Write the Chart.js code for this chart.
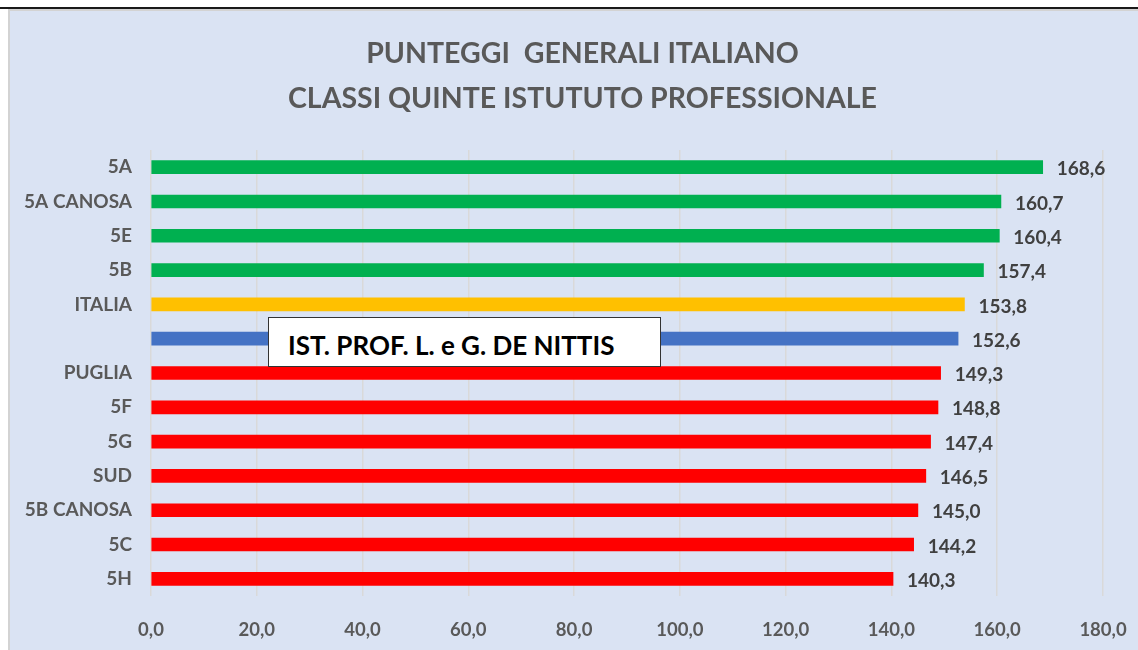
<!doctype html>
<html lang="it">

<head>
    <meta charset="utf-8">
    <title>Punteggi generali italiano</title>
    <script src="https://cdn.jsdelivr.net/npm/chart.js"></script>
    <style>
        body {
            margin: 0;
            background: #ffffff;
            font-family: Lato, "Open Sans", sans-serif;
        }

        .riga {
            position: absolute;
            left: 0;
            top: 7px;
            width: 1138px;
            height: 2px;
            background: #1a1a1a;
        }

        .pannello {
            position: absolute;
            left: 8px;
            top: 9px;
            width: 1128px;
            height: 639px;
            background: #dae3f3;
            border-top: 2px solid #d3d3d3;
            border-left: 2px solid #d3d3d3;
        }

        .titolo {
            position: absolute;
            left: 27px;
            top: 30px;
            width: 1111px;
            text-align: center;
            font-weight: bold;
            font-size: 28.5px;
            line-height: 45px;
            color: #595959;
            white-space: pre;
        }

        .etichetta {
            position: absolute;
            left: 268px;
            top: 317px;
            width: 393px;
            height: 50px;
            box-sizing: border-box;
            background: #ffffff;
            border: 1px solid #333333;
            font-weight: bold;
            font-size: 26px;
            color: #000000;
            line-height: 54px;
            padding-left: 19px;
            white-space: nowrap;
        }
    </style>
</head>

<body>
    <div class="riga"></div>
    <div class="pannello">
        <canvas id="chart" width="1128" height="639"></canvas>
    </div>
    <div class="titolo" id="titolo"></div>
    <div class="etichetta">IST. PROF. L. e G. DE NITTIS</div>

    <script>
        // dati
        const classi = ['5A', '5A CANOSA', '5E', '5B', 'ITALIA', '', 'PUGLIA', '5F', '5G', 'SUD', '5B CANOSA', '5C', '5H'];
        const punteggi = [168.6, 160.7, 160.4, 157.4, 153.8, 152.6, 149.3, 148.8, 147.4, 146.5, 145.0, 144.2, 140.3];
        const colori = ['#00b050', '#00b050', '#00b050', '#00b050', '#ffc000', '#4472c4',
            '#ff0000', '#ff0000', '#ff0000', '#ff0000', '#ff0000', '#ff0000', '#ff0000'];
        const titolo = ['PUNTEGGI  GENERALI ITALIANO', 'CLASSI QUINTE ISTUTUTO PROFESSIONALE'];

        document.getElementById('titolo').textContent = titolo.join('\n');

        const virgola = v => v.toFixed(1).replace('.', ',');

        // etichette dei valori a destra delle barre
        const valori = {
            id: 'valori',
            afterDatasetsDraw(chart) {
                const ctx = chart.ctx;
                const meta = chart.getDatasetMeta(0);
                ctx.save();
                ctx.font = 'bold 19px Lato, sans-serif';
                ctx.fillStyle = '#404040';
                ctx.textAlign = 'left';
                ctx.textBaseline = 'middle';
                meta.data.forEach((bar, i) => {
                    ctx.fillText(virgola(punteggi[i]), bar.x + 14, bar.y + 2);
                });
                ctx.restore();
            }
        };

        new Chart(document.getElementById('chart'), {
            type: 'bar',
            data: {
                labels: classi,
                datasets: [{
                    data: punteggi,
                    backgroundColor: colori,
                    barThickness: 13
                }]
            },
            options: {
                indexAxis: 'y',
                responsive: false,
                animation: false,
                layout: { padding: { left: 0, right: 35, top: 139, bottom: 0 } },
                plugins: {
                    legend: { display: false },
                    tooltip: { enabled: false },
                    title: { display: false }
                },
                scales: {
                    x: {
                        min: 0,
                        max: 180,
                        afterFit: s => {
                            s.height = 54;
                            s.paddingLeft = 0;
                            s.paddingRight = 0;
                        },
                        ticks: {
                            stepSize: 20,
                            color: '#595959',
                            font: { family: 'Lato, sans-serif', size: 18.5, weight: 'bold' },
                            padding: 23,
                            callback: v => virgola(v)
                        },
                        grid: { color: '#d9d9d9', lineWidth: 1.5, drawTicks: false },
                        border: { display: false }
                    },
                    y: {
                        afterFit: s => { s.width = 141; },
                        ticks: {
                            color: '#595959',
                            font: { family: 'Lato, sans-serif', size: 19, weight: 'bold' },
                            padding: 19
                        },
                        grid: { display: false, drawTicks: false },
                        border: { display: false }
                    }
                }
            },
            plugins: [valori]
        });
    </script>
</body>

</html>
